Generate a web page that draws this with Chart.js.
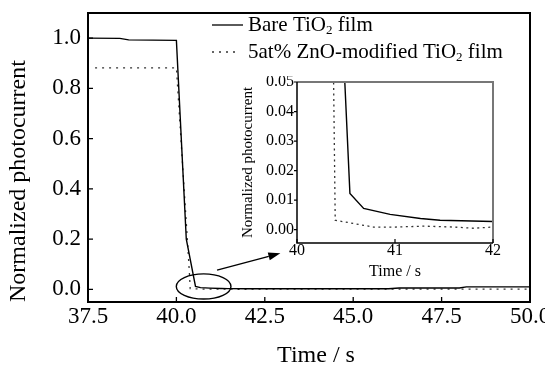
<!DOCTYPE html>
<html><head><meta charset="utf-8">
<script src="https://cdn.jsdelivr.net/npm/chart.js@4.4.0/dist/chart.umd.min.js"></script>
<style>
html,body{margin:0;padding:0;background:#fff;}
#wrap{position:relative;width:545px;height:369px;overflow:hidden;background:#fff;}
#main{position:absolute;left:0;top:0;}
#inset{position:absolute;left:236px;top:76px;}
</style></head><body>
<div id="wrap"><canvas id="main" width="545" height="369"></canvas><canvas id="inset" width="270" height="206"></canvas></div>
<script>
// ---- data ----
const timeBare  = [37.5, 38.4, 38.65, 40.0, 40.28, 40.54, 40.68, 40.95, 41.26, 41.46, 42.0, 44.0, 46.0, 46.3, 48.0, 48.2, 50.0];
const valueBare = [1.000, 0.999, 0.993, 0.991, 0.20, 0.0123, 0.0072, 0.0052, 0.0038, 0.0032, 0.0028, 0.0028, 0.003, 0.006, 0.006, 0.010, 0.010];
const timeZnO   = [37.7, 40.0, 40.3, 40.37, 40.39, 40.78, 41.0, 41.3, 41.6, 41.8, 42.0, 46.0, 50.0];
const valueZnO  = [0.882, 0.882, 0.22, 0.06, 0.0032, 0.0009, 0.0009, 0.0012, 0.0009, 0.0005, 0.0009, 0.001, 0.001];
const seriesNames = ['Bare TiO₂ film', '5at% ZnO-modified TiO₂ film'];
const mainXTicks = [37.5, 40.0, 42.5, 45.0, 47.5, 50.0];
const mainYTicks = [0.0, 0.2, 0.4, 0.6, 0.8, 1.0];
const insetXTicks = [40, 41, 42];
const insetYTicks = [0.00, 0.01, 0.02, 0.03, 0.04, 0.05];
const axisTitleY = 'Normalized photocurrent';
const axisTitleX = 'Time / s';
// annotation (data coordinates of main chart)
const ellipseCenter = [40.77, 0.012];
const ellipseRadii = [0.773, 0.05];
const arrowFrom = [41.15, 0.077];
const arrowTo = [42.94, 0.144];

const FONT = "'Liberation Serif','Times New Roman',Times,serif";
const toXY = (xs, ys) => xs.map((v, i) => ({x: v, y: ys[i]}));

function drawRich(ctx, text, x, y, size) {
  let cx = x;
  let buf = '';
  const flush = () => {
    if (!buf) return;
    ctx.font = size + 'px ' + FONT;
    ctx.fillText(buf, cx, y);
    cx += ctx.measureText(buf).width;
    buf = '';
  };
  for (const ch of text) {
    if (ch === '₂') {
      flush();
      const s = size * 0.62;
      ctx.font = s + 'px ' + FONT;
      ctx.fillText('2', cx, y + size * 0.28);
      cx += ctx.measureText('2').width;
    } else buf += ch;
  }
  flush();
}

const datasets = (dashMain) => [
  {label: seriesNames[0], data: toXY(timeBare, valueBare), borderColor: '#000', borderWidth: 1.4, pointRadius: 0, tension: 0, fill: false},
  {label: seriesNames[1], data: toXY(timeZnO, valueZnO), borderColor: '#333', borderWidth: 1.3, borderDash: dashMain, pointRadius: 0, tension: 0, fill: false}
];

const mainDecor = {
  id: 'mainDecor',
  afterDatasetsDraw(chart) {
    const {ctx, chartArea: a, scales: {x, y}} = chart;
    ctx.save();
    ctx.strokeStyle = '#000';
    ctx.lineWidth = 2;
    ctx.strokeRect(a.left, a.top, a.right - a.left, a.bottom - a.top);
    ctx.lineWidth = 1.3;
    ctx.beginPath();
    x.ticks.forEach((t, i) => { const p = x.getPixelForTick(i); ctx.moveTo(p, a.bottom); ctx.lineTo(p, a.bottom - 5); });
    y.ticks.forEach((t, i) => { const p = y.getPixelForTick(i); ctx.moveTo(a.left, p); ctx.lineTo(a.left + 5, p); });
    ctx.stroke();
    // ellipse
    const cx = x.getPixelForValue(ellipseCenter[0]), cy = y.getPixelForValue(ellipseCenter[1]);
    const rx = x.getPixelForValue(ellipseCenter[0] + ellipseRadii[0]) - cx;
    const ry = cy - y.getPixelForValue(ellipseCenter[1] + ellipseRadii[1]);
    ctx.lineWidth = 1.4;
    ctx.beginPath();
    ctx.ellipse(cx, cy, rx, ry, 0, 0, Math.PI * 2);
    ctx.stroke();
    // arrow
    const x1 = x.getPixelForValue(arrowFrom[0]), y1 = y.getPixelForValue(arrowFrom[1]);
    const x2 = x.getPixelForValue(arrowTo[0]), y2 = y.getPixelForValue(arrowTo[1]);
    const ang = Math.atan2(y2 - y1, x2 - x1);
    const hl = 12, hw = 4;
    const bx = x2 - hl * Math.cos(ang), by = y2 - hl * Math.sin(ang);
    ctx.beginPath();
    ctx.moveTo(x1, y1); ctx.lineTo(bx, by); ctx.stroke();
    ctx.fillStyle = '#000';
    ctx.beginPath();
    ctx.moveTo(x2, y2);
    ctx.lineTo(bx + hw * Math.sin(ang), by - hw * Math.cos(ang));
    ctx.lineTo(bx - hw * Math.sin(ang), by + hw * Math.cos(ang));
    ctx.closePath(); ctx.fill();
    // legend
    const lx0 = a.left + 124, lx1 = a.left + 155, tx = a.left + 160;
    const rows = [a.top + 12, a.top + 39];
    ctx.lineWidth = 1.3;
    ctx.strokeStyle = '#000';
    ctx.beginPath(); ctx.moveTo(lx0, rows[0]); ctx.lineTo(lx1, rows[0]); ctx.stroke();
    ctx.strokeStyle = '#333';
    ctx.setLineDash([2, 5]);
    ctx.beginPath(); ctx.moveTo(lx0, rows[1]); ctx.lineTo(lx1 - 3, rows[1]); ctx.stroke();
    ctx.setLineDash([]);
    ctx.fillStyle = '#000';
    ctx.textBaseline = 'middle';
    ctx.textAlign = 'left';
    drawRich(ctx, seriesNames[0], tx, rows[0], 21);
    drawRich(ctx, seriesNames[1], tx, rows[1], 21);
    // x axis title
    ctx.font = '24px ' + FONT;
    ctx.textAlign = 'center';
    ctx.fillText(axisTitleX, a.left + 228, 356);
    ctx.restore();
  }
};

const insetDecor = {
  id: 'insetDecor',
  afterDatasetsDraw(chart) {
    const {ctx, chartArea: a, scales: {x, y}} = chart;
    ctx.save();
    ctx.strokeStyle = '#777';
    ctx.lineWidth = 2;
    ctx.beginPath();
    ctx.moveTo(a.left, a.top); ctx.lineTo(a.right, a.top); ctx.lineTo(a.right, a.bottom);
    ctx.stroke();
    ctx.strokeStyle = '#000';
    ctx.lineWidth = 1.5;
    ctx.beginPath();
    ctx.moveTo(a.left, a.top); ctx.lineTo(a.left, a.bottom); ctx.lineTo(a.right, a.bottom);
    ctx.stroke();
    ctx.lineWidth = 1.2;
    ctx.beginPath();
    x.ticks.forEach((t, i) => { const p = x.getPixelForTick(i); ctx.moveTo(p, a.bottom); ctx.lineTo(p, a.bottom - 4); });
    y.ticks.forEach((t, i) => { const p = y.getPixelForTick(i); ctx.moveTo(a.left, p); ctx.lineTo(a.left - 3, p); });
    ctx.stroke();
    ctx.restore();
  }
};

new Chart(document.getElementById('main'), {
  type: 'line',
  data: {datasets: datasets([2, 5])},
  plugins: [mainDecor],
  options: {
    responsive: false, animation: false, devicePixelRatio: 1, events: [],
    layout: {padding: {left: 0, right: 15, top: 13, bottom: 0}},
    plugins: {legend: {display: false}, tooltip: {enabled: false}},
    scales: {
      x: {
        type: 'linear', min: 37.5, max: 50,
        afterBuildTicks: s => { s.ticks = mainXTicks.map(v => ({value: v})); },
        afterFit: s => { s.height = 67; s.paddingLeft = 0; s.paddingRight = 0; },
        grid: {display: false, drawTicks: false}, border: {display: false},
        ticks: {font: {family: FONT, size: 23, lineHeight: 1.2}, color: '#000', padding: 1.5, maxRotation: 0, autoSkip: false, callback: v => Number(v).toFixed(1)},
        title: {display: false}
      },
      y: {
        type: 'linear', min: -0.05, max: 1.1,
        afterBuildTicks: s => { s.ticks = mainYTicks.map(v => ({value: v})); },
        afterFit: s => { s.width = 88; s.paddingTop = 0; s.paddingBottom = 0; },
        grid: {display: false, drawTicks: false}, border: {display: false},
        ticks: {font: {family: FONT, size: 23}, color: '#000', padding: 7, autoSkip: false, callback: v => Number(v).toFixed(1)},
        title: {display: true, align: 'start', text: axisTitleY, font: {family: FONT, size: 24, lineHeight: 1}, color: '#000', padding: {top: 7, bottom: 0}}
      }
    }
  }
});

new Chart(document.getElementById('inset'), {
  type: 'line',
  data: {datasets: datasets([2, 3.5])},
  plugins: [insetDecor],
  options: {
    responsive: false, animation: false, devicePixelRatio: 1, events: [],
    layout: {padding: {left: 0, right: 13, top: 6, bottom: 0}},
    plugins: {legend: {display: false}, tooltip: {enabled: false}},
    scales: {
      x: {
        type: 'linear', min: 40, max: 42,
        afterBuildTicks: s => { s.ticks = insetXTicks.map(v => ({value: v})); },
        afterFit: s => { s.height = 39; s.paddingLeft = 0; s.paddingRight = 0; },
        grid: {display: false, drawTicks: false}, border: {display: false},
        ticks: {font: {family: FONT, size: 16, lineHeight: 1}, color: '#000', padding: 0, maxRotation: 0, autoSkip: false, callback: v => String(v)},
        title: {display: true, text: axisTitleX, font: {family: FONT, size: 16, lineHeight: 1}, color: '#000', padding: {top: 0, bottom: 2.5}}
      },
      y: {
        type: 'linear', min: -0.0045, max: 0.05,
        afterBuildTicks: s => { s.ticks = insetYTicks.map(v => ({value: v})); },
        afterFit: s => { s.width = 61; s.paddingTop = 0; s.paddingBottom = 0; },
        grid: {display: false, drawTicks: false}, border: {display: false},
        ticks: {font: {family: FONT, size: 16}, color: '#000', padding: 3, autoSkip: false, callback: v => Number(v).toFixed(2)},
        title: {display: true, text: axisTitleY, font: {family: FONT, size: 15, lineHeight: 1}, color: '#000', padding: {top: 5, bottom: 0}}
      }
    }
  }
});
</script>
</body></html>
